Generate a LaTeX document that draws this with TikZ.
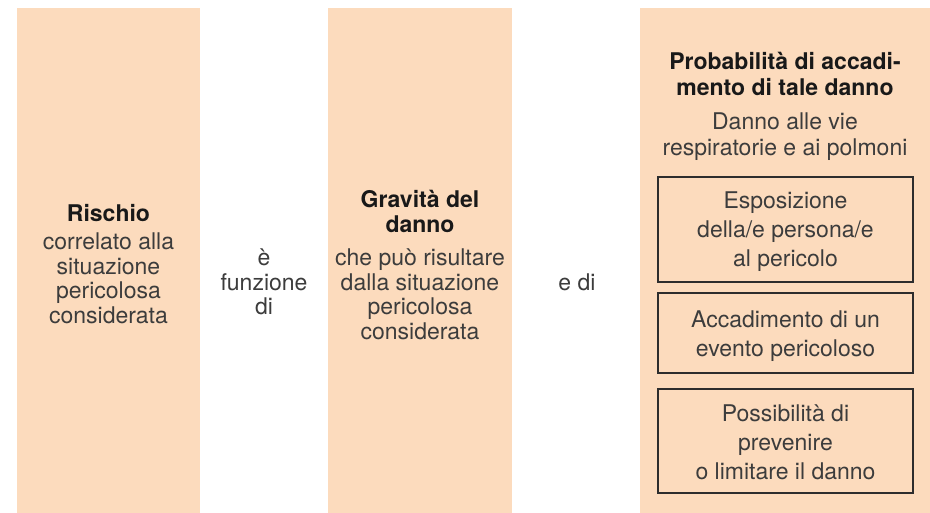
\documentclass[tikz,border=0pt]{standalone}
\usepackage{fontspec}
\setmainfont{TeX Gyre Heros}
\definecolor{peach}{RGB}{252,219,189}
\definecolor{txt}{RGB}{60,60,60}
\definecolor{boxline}{RGB}{45,45,45}
\begin{document}
\begin{tikzpicture}[x=1pt,y=-1pt,
  font=\fontsize{23}{24.5}\selectfont,
  colbox/.style={fill=peach, draw=none, inner sep=0pt, minimum width=#1, minimum height=505pt},
  inbox/.style={draw=boxline, line width=1.2pt, inner sep=0pt, minimum width=255pt, minimum height=#1},
  lbl/.style={align=center, text=txt, inner sep=0pt},
  boxtxt/.style={lbl, font=\fontsize{23}{29}\selectfont}]
\useasboundingbox (0,0) rectangle (930,513);
% columns
\node[colbox=183pt] (c1) at (108.5,260.5) {};
\node[colbox=184pt] (c2) at (420,260.5) {};
\node[colbox=290pt] (c3) at (785,260.5) {};
% inner boxes
\node[inbox=105pt] (b1) at (785.5,229.5) {};
\node[inbox=80pt] (b2) at (785.5,333) {};
\node[inbox=104pt] (b3) at (785.5,441) {};
% texts
\node[lbl] (t1) at (108.5,264) {\textbf{\textcolor{black!90}{Rischio}}\\[4pt]correlato alla\\situazione\\pericolosa\\considerata};
\node[lbl] (f1) at (264,282) {è\\funzione\\di};
\node[lbl] (t2) at (420,265) {\textbf{\textcolor{black!90}{Gravità del}}\\\textbf{\textcolor{black!90}{danno}}\\[9pt]che può risultare\\dalla situazione\\pericolosa\\considerata};
\node[lbl] (f2) at (577,282) {e di};
\node[lbl, font=\fontsize{23}{26}\selectfont] (t3) at (785,106) {\textbf{\textcolor{black!90}{Probabilità di accadi-}}\\\textbf{\textcolor{black!90}{mento di tale danno}}\\[8pt]Danno alle vie\\respiratorie e ai polmoni};
\node[boxtxt] (tb1) at ([yshift=-2pt]b1.center) {Esposizione\\della/e persona/e\\al pericolo};
\node[boxtxt] (tb2) at ([yshift=-3pt]b2.center) {Accadimento di un\\evento pericoloso};
\node[boxtxt] (tb3) at ([yshift=-1pt]b3.center) {Possibilità di\\prevenire\\o limitare il danno};
\end{tikzpicture}
\end{document}
